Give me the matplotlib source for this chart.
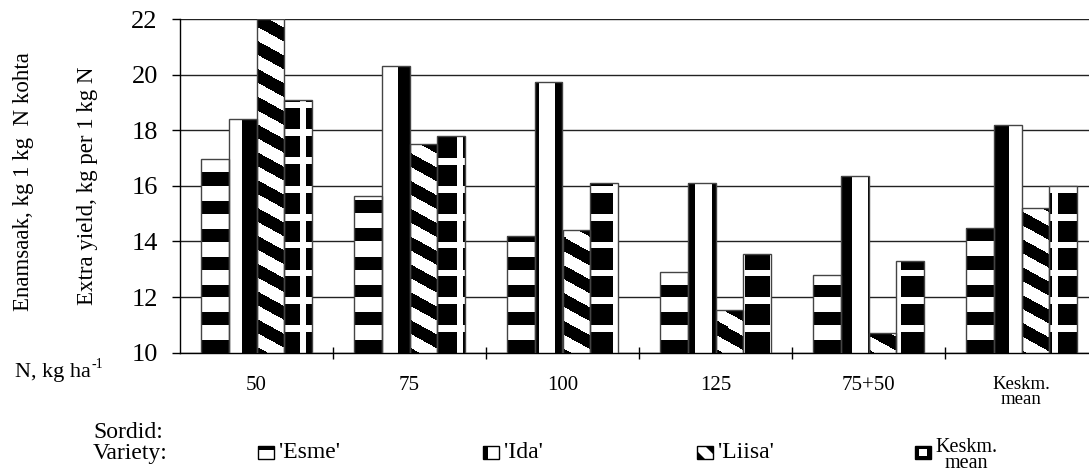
import numpy as np
import matplotlib.pyplot as plt
from matplotlib.patches import Rectangle, Polygon

plt.rcParams['font.family'] = ['Liberation Serif', 'DejaVu Serif']

# Data.
categories = ['50', '75', '100', '125', '75+50', 'Keskm.\nmean']
varieties = ["'Esme'", "'Ida'", "'Liisa'", 'Keskm.\nmean']
esme = [16.95, 15.65, 14.2, 12.9, 12.8, 14.5]
ida = [18.4, 20.3, 19.75, 16.1, 16.35, 18.2]
liisa = [22.0, 17.5, 14.4, 11.55, 10.7, 15.2]
mean = [19.1, 17.8, 16.1, 13.55, 13.3, 16.0]
yticks = [10, 12, 14, 16, 18, 20, 22]

W, H = 1089, 472
fig = plt.figure(figsize=(W / 100, H / 100), dpi=100)


def px(x, y):
    # figure pixel (from top-left) -> figure fraction
    return x / W, 1 - y / H


# Axes box in pixels (right edge runs past the picture, as in the original).
ax_l, ax_t, ax_r, ax_b = 180, 19, 1098, 352.7
ax = fig.add_axes([ax_l / W, 1 - ax_b / H, (ax_r - ax_l) / W, (ax_b - ax_t) / H])
ymin, ymax = yticks[0], yticks[-1]
xmin, xmax = -0.5, len(categories) - 0.5

# Pixel grids for the fill patterns (1 = white, 0 = black).
nx, ny = int(round(ax_r - ax_l)), int(round(ax_b - ax_t))
XX, YY = np.meshgrid(ax_l + np.arange(nx) + 0.5,
                     ax_t + (np.arange(ny) + 0.5) * (ax_b - ax_t) / ny)
yd = ymax - (YY - ax_t) / (ax_b - ax_t) * (ymax - ymin)
unit = (ax_b - ax_t) / (ymax - ymin)

pat_esme = (yd % 1.0 >= 0.46).astype(float)
pat_ida = (((XX - 241.7) % 31.33) >= 15).astype(float)
pat_liisa = (((YY - 0.55 * (XX - 256.7) - 180) % unit) >= unit / 2).astype(float)
pat_mean = ((yd % 1.0 >= 0.76) | (((XX - 300) % 31.33) < 6)).astype(float)
patterns = [pat_esme, pat_ida, pat_liisa, pat_mean]

series = [esme, ida, liisa, mean]
x = np.arange(len(categories))
bw = 0.1823

for k, (vals, pat) in enumerate(zip(series, patterns)):
    bars = ax.bar(x + (k - 1.5) * bw, vals, bw, facecolor='none',
                  edgecolor='#444444', linewidth=1.0, zorder=3)
    for b in bars:
        im = ax.imshow(pat, cmap='gray', vmin=0, vmax=1, origin='upper',
                       extent=(xmin, xmax, ymin, ymax), aspect='auto',
                       interpolation='nearest', zorder=2)
        im.set_clip_path(b)

ax.set_xlim(xmin, xmax)
ax.set_ylim(ymin, ymax)

# Axis styling
for s in ['top', 'right']:
    ax.spines[s].set_visible(False)
for s in ['left', 'bottom']:
    ax.spines[s].set_color('black')
    ax.spines[s].set_linewidth(1.0)
ax.set_axisbelow(True)
ax.yaxis.grid(True, color='#222222', linewidth=1.0)

ax.set_yticks(yticks)
ax.tick_params(axis='y', direction='out', length=6, width=1, pad=10, labelsize=19)
ax.set_xticks(x)
ax.set_xticklabels(categories)
ax.set_xticks(x[:-1] + 0.5, minor=True)
ax.tick_params(axis='x', which='major', length=0, pad=17, labelsize=15)
ax.tick_params(axis='x', which='minor', direction='inout', length=8.5, width=1)
last = ax.get_xticklabels()[-1]
last.set_fontsize(13.5)
last.set_linespacing(0.85)

# Axis titles
fig.text(*px(24, 182), 'Enamsaak, kg 1 kg  N kohta', rotation=90,
         ha='center', va='center', fontsize=16.5)
fig.text(*px(88, 186), 'Extra yield, kg per 1 kg N', rotation=90,
         ha='center', va='center', fontsize=16.5)

t = fig.text(*px(15, 372), 'N, kg ha', ha='left', va='center', fontsize=16)
fig.canvas.draw()
end = t.get_window_extent().x1
fig.text(end + 1, (1 - 364 / H) * H, '-1', ha='left', va='center', fontsize=10,
         transform=None)

# Legend
fig.text(*px(93, 433), 'Sordid:', ha='left', va='center', fontsize=17)
fig.text(*px(93, 453), 'Variety:', ha='left', va='center', fontsize=17)

box_x = [258, 483, 697, 915]
bwpx, bhpx, row = 16, 13, 452


def box(x0, y0, w, h, **kw):
    fx, fy = px(x0, y0 + h)
    r = Rectangle((fx, fy), w / W, h / H, transform=fig.transFigure, **kw)
    fig.add_artist(r)


for k, (bx, name) in enumerate(zip(box_x, varieties)):
    y0 = row - bhpx / 2
    if k == 3:
        box(bx, y0, bwpx, bhpx, facecolor='black', edgecolor='black', lw=1)
        box(bx + 4, y0 + 3, bwpx - 8, bhpx - 6, facecolor='white', edgecolor='none')
    else:
        box(bx, y0, bwpx, bhpx, facecolor='white', edgecolor='none')
        if k == 0:
            box(bx, y0, bwpx, 4, facecolor='black', edgecolor='none')
        elif k == 1:
            box(bx, y0, 5, bhpx, facecolor='black', edgecolor='none')
        else:
            for tri in ([(bx, y0 + 5), (bx, y0 + bhpx), (bx + 8, y0 + bhpx)],
                        [(bx + 8, y0), (bx + bwpx, y0), (bx + bwpx, y0 + 8)]):
                fig.add_artist(Polygon([px(a, b) for a, b in tri], closed=True,
                                       transform=fig.transFigure,
                                       facecolor='black', edgecolor='none'))
        box(bx, y0, bwpx, bhpx, facecolor='none', edgecolor='black', lw=1)
    if k == 3:
        fig.text(*px(bx + 20, row - 14), name, ha='left', va='top', fontsize=14.5,
                 multialignment='center', linespacing=0.75)
    else:
        fig.text(*px(bx + 21, row), name, ha='left', va='center', fontsize=17)

fig.savefig('out.png', dpi=100)
